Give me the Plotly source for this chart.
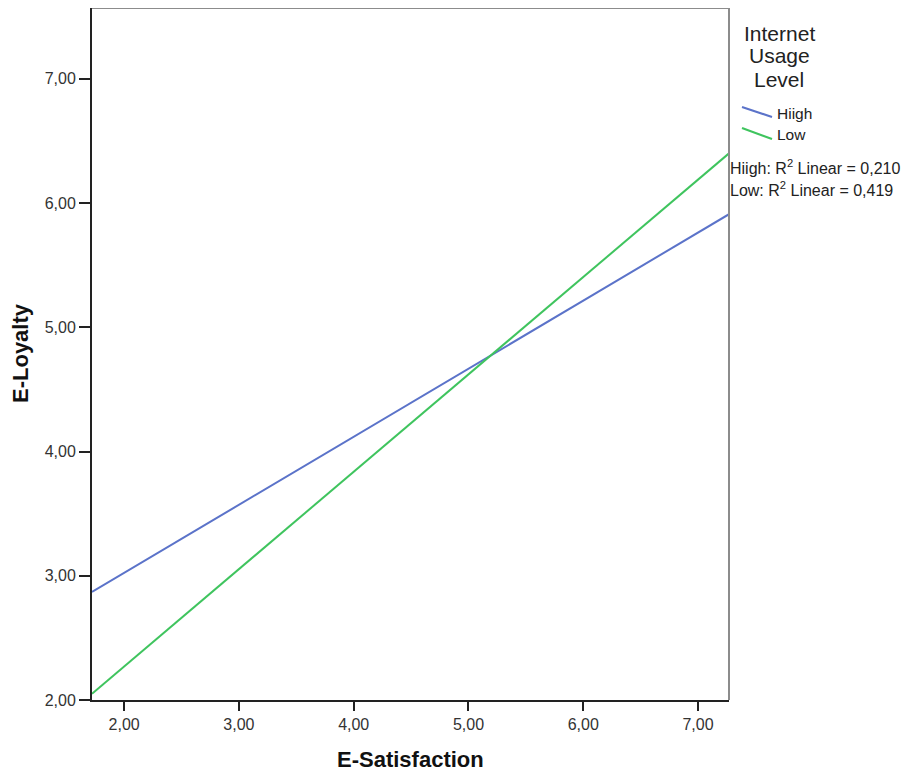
import plotly.graph_objects as go

# Data: fitted regression line endpoints
x_ends = [1.72, 7.27]
high_y = [2.87, 5.91]
low_y = [2.05, 6.40]
series_names = ["Hiigh", "Low"]
r2_values = ["0,210", "0,419"]
legend_title = ["Internet", "Usage", "Level"]
x_ticks = [2, 3, 4, 5, 6, 7]
y_ticks = [2, 3, 4, 5, 6, 7]

W, H = 912, 774
OFF = 8  # page body margin offset in screenshot
# target plot area in screen pixels
SX0, SX1, SY0, SY1 = 92, 729, 8, 700
ML = SX0 - OFF
MR = W - (SX1 - OFF)
MT = SY0 - OFF
MB = H - (SY1 - OFF)
PW = SX1 - SX0
PH = SY1 - SY0

def px(x):
    return (x - SX0) / PW

def py(y):
    return (SY1 - y) / PH

FONT = "Arial, Liberation Sans, sans-serif"
BLUE = "#5b73c9"
GREEN = "#3fc45e"
TXT = "#222"

fig = go.Figure()
fig.add_trace(go.Scatter(x=x_ends, y=high_y, mode="lines", name=series_names[0],
                         line=dict(color=BLUE, width=2), showlegend=False))
fig.add_trace(go.Scatter(x=x_ends, y=low_y, mode="lines", name=series_names[1],
                         line=dict(color=GREEN, width=2), showlegend=False))

shapes = [
    dict(type="line", xref="paper", yref="paper", x0=0, x1=1, y0=1, y1=1,
         line=dict(color="#8c8c8c", width=2)),
    dict(type="line", xref="paper", yref="paper", x0=1, x1=1, y0=0, y1=1,
         line=dict(color="#8c8c8c", width=2)),
    dict(type="line", xref="paper", yref="paper", x0=px(742), x1=px(772),
         y0=py(107), y1=py(117), line=dict(color=BLUE, width=2)),
    dict(type="line", xref="paper", yref="paper", x0=px(742), x1=px(772),
         y0=py(128), y1=py(139), line=dict(color=GREEN, width=2)),
]

annotations = []
for txt, yy in zip(legend_title, [33, 56, 79]):
    annotations.append(dict(text=txt, xref="paper", yref="paper", x=px(779), y=py(yy),
                            xanchor="center", yanchor="middle", showarrow=False,
                            font=dict(family=FONT, size=21, color=TXT)))
for name, yy in zip(series_names, [113, 135]):
    annotations.append(dict(text=name, xref="paper", yref="paper", x=px(775), y=py(yy),
                            xanchor="left", yanchor="middle", showarrow=False,
                            font=dict(family=FONT, size=15.5, color=TXT)))
for name, r2, yy in zip(series_names, r2_values, [167, 189]):
    annotations.append(dict(text=f"{name}: R<sup>2</sup> Linear = {r2}", xref="paper", yref="paper",
                            x=px(728), y=py(yy), xanchor="left", yanchor="middle", showarrow=False,
                            font=dict(family=FONT, size=16, color=TXT)))
annotations.append(dict(text="<b>E-Satisfaction</b>", xref="paper", yref="paper",
                        x=px(410), y=py(759), xanchor="center", yanchor="middle", showarrow=False,
                        font=dict(family=FONT, size=22, color="#111")))
annotations.append(dict(text="<b>E-Loyalty</b>", xref="paper", yref="paper",
                        x=px(20), y=py(353), xanchor="center", yanchor="middle", showarrow=False,
                        textangle=-90, font=dict(family=FONT, size=22, color="#111")))

fig.update_layout(
    width=W, height=H,
    margin=dict(l=ML, r=MR, t=MT, b=MB, pad=0),
    plot_bgcolor="white", paper_bgcolor="white",
    separators=",.",
    shapes=shapes, annotations=annotations,
    font=dict(family=FONT, size=16, color="#333"),
    xaxis=dict(range=[1.72, 7.27], tickvals=x_ticks, tickformat=".2f",
               showgrid=False, zeroline=False, showline=True, linecolor="#222", linewidth=2,
               ticks="outside", ticklen=9, tickwidth=2, tickcolor="#222",
               tickfont=dict(family=FONT, size=16, color="#333")),
    yaxis=dict(range=[2.0, 7.57], tickvals=y_ticks, tickformat=".2f",
               showgrid=False, zeroline=False, showline=True, linecolor="#222", linewidth=2,
               ticks="outside", ticklen=11, tickwidth=2, tickcolor="#222",
               tickfont=dict(family=FONT, size=16, color="#333")),
)

fig.write_html("out.html")
